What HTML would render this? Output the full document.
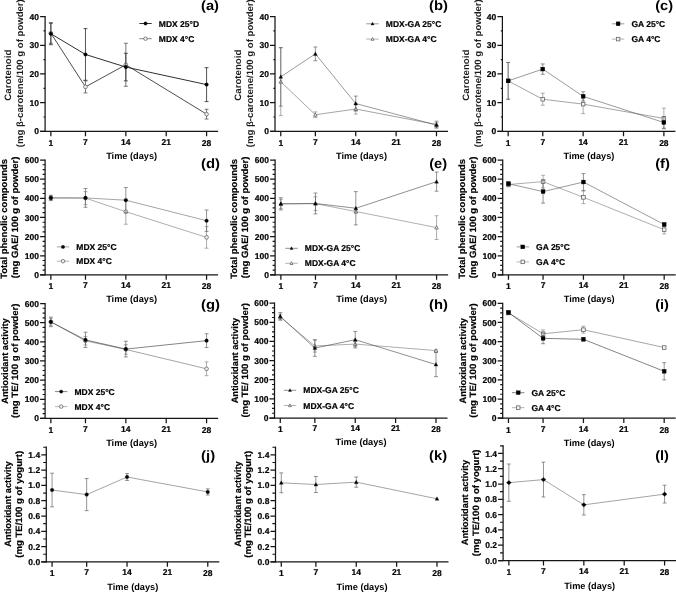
<!DOCTYPE html>
<html lang="en">
<head>
<meta charset="utf-8">
<title>Stability charts</title>
<style>
html,body{margin:0;padding:0;background:#fff;}
body{width:676px;height:592px;overflow:hidden;font-family:"Liberation Sans",sans-serif;}
svg{display:block;will-change:transform;transform:translateZ(0);}
svg text{text-rendering:geometricPrecision;font-family:"Liberation Sans",sans-serif;font-weight:bold;fill:#000;}
.tk text,.lg{stroke:#000;stroke-width:0.2px;stroke-linejoin:round;}
.tk text{font-size:8.5px;}
.tt{font-size:9.2px;}
.t1,.t2,.t3{stroke:#000;stroke-width:0.18px;}
.t0{fill:#1c1c1c;}
.lg{font-size:8.5px;}
.pl{font-size:13.5px;}
</style>
</head>
<body>
<svg width="676" height="592" viewBox="0 0 676 592">
<rect x="0" y="0" width="676" height="592" fill="#ffffff"/>
<!-- panel a -->
<g stroke="#151515" stroke-width="1.25" fill="none" stroke-linecap="butt">
<path d="M45.1 15.93 V132.03"/>
<path d="M40.1 131.4 H218.11"/>
<path d="M40.1 131.4 H45.1M40.1 102.69 H45.1M40.1 73.97 H45.1M40.1 45.26 H45.1M40.1 16.55 H45.1"/>
<path d="M50.87 131.4 V136.3M85.47 131.4 V136.3M125.84 131.4 V136.3M166.21 131.4 V136.3M206.58 131.4 V136.3"/>
</g>
<path d="M43.5 117.04 H45.1M43.5 88.33 H45.1M43.5 59.62 H45.1M43.5 30.91 H45.1" stroke="#151515" stroke-width="1.15" fill="none"/>
<g class="tk" text-anchor="end">
<text x="39" y="134.45">0</text>
<text x="39" y="105.74">10</text>
<text x="39" y="77.02">20</text>
<text x="39" y="48.31">30</text>
<text x="39" y="19.6">40</text>
</g>
<g class="tk" text-anchor="middle">
<text x="50.87" y="145.7">1</text>
<text x="85.47" y="144.7">7</text>
<text x="125.84" y="144.7">14</text>
<text x="166.21" y="144.7">21</text>
<text x="206.58" y="145.7">28</text>
</g>
<text class="tt" text-anchor="middle" x="131.61" y="158.8">Time (days)</text>
<text class="tt t0" text-anchor="middle" textLength="51" lengthAdjust="spacingAndGlyphs" transform="translate(11.2 75.2) rotate(-90)">Carotenoid</text>
<text class="tt t0" text-anchor="middle" textLength="148" lengthAdjust="spacingAndGlyphs" transform="translate(23.3 73.2) rotate(-90)">(mg β-carotene/100 g of powder)</text>
<path d="M50.87 33.2 L85.47 86.9 L125.84 64.79 L206.58 114.17" stroke="#444" stroke-width="0.95" fill="none"/>
<path d="M50.87 23.15 V43.25 M48.92 23.15 H52.82 M48.92 43.25 H52.82M85.47 80.87 V92.93 M83.52 80.87 H87.42 M83.52 92.93 H87.42M125.84 43.25 V86.32 M123.89 43.25 H127.79 M123.89 86.32 H127.79M206.58 109.29 V119.05 M204.63 109.29 H208.53 M204.63 119.05 H208.53" stroke="#555" stroke-width="0.8" fill="none"/>
<circle cx="50.87" cy="33.2" r="1.85" fill="#f2f2f2" stroke="#555" stroke-width="0.7"/>
<circle cx="85.47" cy="86.9" r="1.85" fill="#f2f2f2" stroke="#555" stroke-width="0.7"/>
<circle cx="125.84" cy="64.79" r="1.85" fill="#f2f2f2" stroke="#555" stroke-width="0.7"/>
<circle cx="206.58" cy="114.17" r="1.85" fill="#f2f2f2" stroke="#555" stroke-width="0.7"/>
<path d="M50.87 33.78 L85.47 54.45 L125.84 67.08 L206.58 84.6" stroke="#262626" stroke-width="0.95" fill="none"/>
<path d="M50.87 22.87 V44.69 M48.92 22.87 H52.82 M48.92 44.69 H52.82M85.47 28.61 V80.29 M83.52 28.61 H87.42 M83.52 80.29 H87.42M125.84 53.3 V80.87 M123.89 53.3 H127.79 M123.89 80.87 H127.79M206.58 67.66 V101.54 M204.63 67.66 H208.53 M204.63 101.54 H208.53" stroke="#2a2a2a" stroke-width="0.8" fill="none"/>
<circle cx="50.87" cy="33.78" r="1.8" fill="#000" stroke="#000" stroke-width="0.3"/>
<circle cx="85.47" cy="54.45" r="1.8" fill="#000" stroke="#000" stroke-width="0.3"/>
<circle cx="125.84" cy="67.08" r="1.8" fill="#000" stroke="#000" stroke-width="0.3"/>
<circle cx="206.58" cy="84.6" r="1.8" fill="#000" stroke="#000" stroke-width="0.3"/>
<path d="M139.3 23.5 H151.7" stroke="#262626" stroke-width="0.95"/>
<circle cx="145.5" cy="23.5" r="1.71" fill="#000" stroke="#000" stroke-width="0.3"/>
<text class="lg" x="158.8" y="26.55">MDX 25°D</text>
<path d="M139.3 38.7 H151.7" stroke="#808080" stroke-width="0.95"/>
<circle cx="145.5" cy="38.7" r="1.76" fill="#f2f2f2" stroke="#555" stroke-width="0.7"/>
<text class="lg" x="158.8" y="41.75">MDX 4°C</text>
<text class="pl" x="201.05" y="9.5" textLength="17.9" lengthAdjust="spacingAndGlyphs">(a)</text>
<!-- panel b -->
<g stroke="#151515" stroke-width="1.25" fill="none" stroke-linecap="butt">
<path d="M275 15.93 V132.03"/>
<path d="M270 131.4 H448.01"/>
<path d="M270 131.4 H275M270 102.69 H275M270 73.97 H275M270 45.26 H275M270 16.55 H275"/>
<path d="M280.77 131.4 V136.3M315.37 131.4 V136.3M355.74 131.4 V136.3M396.11 131.4 V136.3M436.48 131.4 V136.3"/>
</g>
<path d="M273.4 117.04 H275M273.4 88.33 H275M273.4 59.62 H275M273.4 30.91 H275" stroke="#151515" stroke-width="1.15" fill="none"/>
<g class="tk" text-anchor="end">
<text x="268.9" y="134.45">0</text>
<text x="268.9" y="105.74">10</text>
<text x="268.9" y="77.02">20</text>
<text x="268.9" y="48.31">30</text>
<text x="268.9" y="19.6">40</text>
</g>
<g class="tk" text-anchor="middle">
<text x="280.77" y="145.7">1</text>
<text x="315.37" y="144.7">7</text>
<text x="355.74" y="144.7">14</text>
<text x="396.11" y="144.7">21</text>
<text x="436.48" y="145.7">28</text>
</g>
<text class="tt" text-anchor="middle" x="361.5" y="158.8">Time (days)</text>
<text class="tt t0" text-anchor="middle" textLength="51" lengthAdjust="spacingAndGlyphs" transform="translate(241.1 75.2) rotate(-90)">Carotenoid</text>
<text class="tt t0" text-anchor="middle" textLength="148" lengthAdjust="spacingAndGlyphs" transform="translate(253.2 73.2) rotate(-90)">(mg β-carotene/100 g of powder)</text>
<path d="M280.77 81.73 L315.37 114.75 L355.74 109 L436.48 124.51" stroke="#666" stroke-width="0.6" fill="none"/>
<path d="M280.77 47.85 V115.61 M278.82 47.85 H282.72 M278.82 115.61 H282.72M315.37 111.88 V117.62 M313.42 111.88 H317.32 M313.42 117.62 H317.32M355.74 103.84 V114.17 M353.79 103.84 H357.69 M353.79 114.17 H357.69M436.48 121.06 V127.95 M434.53 121.06 H438.43 M434.53 127.95 H438.43" stroke="#828282" stroke-width="0.65" fill="none"/>
<polygon points="280.77,79.84 278.97,83.17 282.57,83.17" fill="#f2f2f2" stroke="#555" stroke-width="0.7"/>
<polygon points="315.37,112.86 313.57,116.19 317.17,116.19" fill="#f2f2f2" stroke="#555" stroke-width="0.7"/>
<polygon points="355.74,107.11 353.94,110.44 357.54,110.44" fill="#f2f2f2" stroke="#555" stroke-width="0.7"/>
<polygon points="436.48,122.62 434.68,125.95 438.28,125.95" fill="#f2f2f2" stroke="#555" stroke-width="0.7"/>
<path d="M280.77 76.85 L315.37 53.88 L355.74 103.55 L436.48 125.08" stroke="#555" stroke-width="0.6" fill="none"/>
<path d="M280.77 47.56 V106.13 M278.82 47.56 H282.72 M278.82 106.13 H282.72M315.37 46.99 V60.77 M313.42 46.99 H317.32 M313.42 60.77 H317.32M355.74 96.08 V111.01 M353.79 96.08 H357.69 M353.79 111.01 H357.69M436.48 122.21 V127.95 M434.53 122.21 H438.43 M434.53 127.95 H438.43" stroke="#5a5a5a" stroke-width="0.65" fill="none"/>
<polygon points="280.77,74.85 278.87,78.37 282.67,78.37" fill="#000" stroke="#000" stroke-width="0.3"/>
<polygon points="315.37,51.88 313.47,55.4 317.27,55.4" fill="#000" stroke="#000" stroke-width="0.3"/>
<polygon points="355.74,101.55 353.84,105.07 357.64,105.07" fill="#000" stroke="#000" stroke-width="0.3"/>
<polygon points="436.48,123.09 434.58,126.6 438.38,126.6" fill="#000" stroke="#000" stroke-width="0.3"/>
<path d="M366.3 23.8 H378.7" stroke="#555" stroke-width="0.6"/>
<polygon points="372.5,22.16 370.94,25.05 374.06,25.05" fill="#000" stroke="#000" stroke-width="0.3"/>
<text class="lg" x="385.8" y="26.85">MDX-GA 25°C</text>
<path d="M366.3 39.1 H378.7" stroke="#808080" stroke-width="0.6"/>
<polygon points="372.5,37.55 371.02,40.28 373.98,40.28" fill="#f2f2f2" stroke="#555" stroke-width="0.7"/>
<text class="lg" x="385.8" y="42.15">MDX-GA 4°C</text>
<text class="pl" x="429.05" y="9.5" textLength="18.9" lengthAdjust="spacingAndGlyphs">(b)</text>
<!-- panel c -->
<g stroke="#151515" stroke-width="1.25" fill="none" stroke-linecap="butt">
<path d="M502.4 15.93 V132.03"/>
<path d="M497.4 131.4 H675.41"/>
<path d="M497.4 131.4 H502.4M497.4 102.69 H502.4M497.4 73.97 H502.4M497.4 45.26 H502.4M497.4 16.55 H502.4"/>
<path d="M508.17 131.4 V136.3M542.77 131.4 V136.3M583.14 131.4 V136.3M623.51 131.4 V136.3M663.88 131.4 V136.3"/>
</g>
<path d="M500.8 117.04 H502.4M500.8 88.33 H502.4M500.8 59.62 H502.4M500.8 30.91 H502.4" stroke="#151515" stroke-width="1.15" fill="none"/>
<g class="tk" text-anchor="end">
<text x="496.3" y="134.45">0</text>
<text x="496.3" y="105.74">10</text>
<text x="496.3" y="77.02">20</text>
<text x="496.3" y="48.31">30</text>
<text x="496.3" y="19.6">40</text>
</g>
<g class="tk" text-anchor="middle">
<text x="508.17" y="145.7">1</text>
<text x="542.77" y="144.7">7</text>
<text x="583.14" y="144.7">14</text>
<text x="623.51" y="144.7">21</text>
<text x="663.88" y="145.7">28</text>
</g>
<text class="tt" text-anchor="middle" x="588.9" y="158.8">Time (days)</text>
<text class="tt t0" text-anchor="middle" textLength="51" lengthAdjust="spacingAndGlyphs" transform="translate(468.5 75.2) rotate(-90)">Carotenoid</text>
<text class="tt t0" text-anchor="middle" textLength="148" lengthAdjust="spacingAndGlyphs" transform="translate(480.6 73.2) rotate(-90)">(mg β-carotene/100 g of powder)</text>
<path d="M508.17 80.87 L542.77 99.24 L583.14 104.12 L663.88 118.48" stroke="#666" stroke-width="0.6" fill="none"/>
<path d="M508.17 62.49 V99.24 M506.22 62.49 H510.12 M506.22 99.24 H510.12M542.77 93.21 V105.27 M540.82 93.21 H544.72 M540.82 105.27 H544.72M583.14 94.65 V113.6 M581.19 94.65 H585.09 M581.19 113.6 H585.09M663.88 108.14 V128.82 M661.93 108.14 H665.83 M661.93 128.82 H665.83" stroke="#828282" stroke-width="0.65" fill="none"/>
<rect x="506.37" y="79.07" width="3.6" height="3.6" fill="#f2f2f2" stroke="#555" stroke-width="0.7"/>
<rect x="540.97" y="97.44" width="3.6" height="3.6" fill="#f2f2f2" stroke="#555" stroke-width="0.7"/>
<rect x="581.34" y="102.32" width="3.6" height="3.6" fill="#f2f2f2" stroke="#555" stroke-width="0.7"/>
<rect x="662.08" y="116.68" width="3.6" height="3.6" fill="#f2f2f2" stroke="#555" stroke-width="0.7"/>
<path d="M508.17 80.87 L542.77 69.09 L583.14 96.37 L663.88 122.5" stroke="#555" stroke-width="0.6" fill="none"/>
<path d="M508.17 62.49 V99.24 M506.22 62.49 H510.12 M506.22 99.24 H510.12M542.77 63.93 V74.26 M540.82 63.93 H544.72 M540.82 74.26 H544.72M583.14 91.78 V100.96 M581.19 91.78 H585.09 M581.19 100.96 H585.09M663.88 116.76 V128.24 M661.93 116.76 H665.83 M661.93 128.24 H665.83" stroke="#5a5a5a" stroke-width="0.65" fill="none"/>
<rect x="506.22" y="78.92" width="3.9" height="3.9" fill="#000" stroke="#000" stroke-width="0.3"/>
<rect x="540.82" y="67.14" width="3.9" height="3.9" fill="#000" stroke="#000" stroke-width="0.3"/>
<rect x="581.19" y="94.42" width="3.9" height="3.9" fill="#000" stroke="#000" stroke-width="0.3"/>
<rect x="661.93" y="120.55" width="3.9" height="3.9" fill="#000" stroke="#000" stroke-width="0.3"/>
<path d="M611.9 23.8 H624.3" stroke="#555" stroke-width="0.6"/>
<rect x="616.15" y="21.85" width="3.9" height="3.9" fill="#000" stroke="#000" stroke-width="0.3"/>
<text class="lg" x="631.4" y="26.85">GA 25°C</text>
<path d="M611.9 39.1 H624.3" stroke="#808080" stroke-width="0.6"/>
<rect x="616.3" y="37.3" width="3.6" height="3.6" fill="#f2f2f2" stroke="#555" stroke-width="0.7"/>
<text class="lg" x="631.4" y="42.15">GA 4°C</text>
<text class="pl" x="655.25" y="9.5" textLength="17.8" lengthAdjust="spacingAndGlyphs">(c)</text>
<!-- panel d -->
<g stroke="#151515" stroke-width="1.25" fill="none" stroke-linecap="butt">
<path d="M45.1 159.38 V275.52"/>
<path d="M40.1 274.9 H218.11"/>
<path d="M40.1 274.9 H45.1M40.1 255.75 H45.1M40.1 236.6 H45.1M40.1 217.45 H45.1M40.1 198.3 H45.1M40.1 179.15 H45.1M40.1 160 H45.1"/>
<path d="M50.87 274.9 V279.8M85.47 274.9 V279.8M125.84 274.9 V279.8M166.21 274.9 V279.8M206.58 274.9 V279.8"/>
</g>
<path d="M42.6 270.11 H45.1M42.6 265.32 H45.1M42.6 260.54 H45.1M42.6 250.96 H45.1M42.6 246.17 H45.1M42.6 241.39 H45.1M42.6 231.81 H45.1M42.6 227.02 H45.1M42.6 222.24 H45.1M42.6 212.66 H45.1M42.6 207.88 H45.1M42.6 203.09 H45.1M42.6 193.51 H45.1M42.6 188.72 H45.1M42.6 183.94 H45.1M42.6 174.36 H45.1M42.6 169.57 H45.1M42.6 164.79 H45.1" stroke="#151515" stroke-width="1.15" fill="none"/>
<g class="tk" text-anchor="end">
<text x="39" y="277.95">0</text>
<text x="39" y="258.8">100</text>
<text x="39" y="239.65">200</text>
<text x="39" y="220.5">300</text>
<text x="39" y="201.35">400</text>
<text x="39" y="182.2">500</text>
<text x="39" y="163.05">600</text>
</g>
<g class="tk" text-anchor="middle">
<text x="50.87" y="289.2">1</text>
<text x="85.47" y="288.2">7</text>
<text x="125.84" y="288.2">14</text>
<text x="166.21" y="288.2">21</text>
<text x="206.58" y="289.2">28</text>
</g>
<text class="tt" text-anchor="middle" x="131.61" y="302.3">Time (days)</text>
<text class="tt t1" text-anchor="middle" textLength="119.8" lengthAdjust="spacingAndGlyphs" transform="translate(7.3 218.9) rotate(-90)">Total phenolic compounds</text>
<text class="tt t1" text-anchor="middle" textLength="121.5" lengthAdjust="spacingAndGlyphs" transform="translate(18 217.4) rotate(-90)">(mg GAE/ 100 g of powder)</text>
<path d="M50.87 197.92 L85.47 198.11 L125.84 211.7 L206.58 237.37" stroke="#777" stroke-width="0.6" fill="none"/>
<path d="M50.87 196 V199.83 M48.92 196 H52.82 M48.92 199.83 H52.82M85.47 191.6 V204.62 M83.52 191.6 H87.42 M83.52 204.62 H87.42M125.84 199.16 V224.25 M123.89 199.16 H127.79 M123.89 224.25 H127.79M206.58 226.55 V248.19 M204.63 226.55 H208.53 M204.63 248.19 H208.53" stroke="#828282" stroke-width="0.65" fill="none"/>
<circle cx="50.87" cy="197.92" r="1.85" fill="#f2f2f2" stroke="#555" stroke-width="0.7"/>
<circle cx="85.47" cy="198.11" r="1.85" fill="#f2f2f2" stroke="#555" stroke-width="0.7"/>
<circle cx="125.84" cy="211.7" r="1.85" fill="#f2f2f2" stroke="#555" stroke-width="0.7"/>
<circle cx="206.58" cy="237.37" r="1.85" fill="#f2f2f2" stroke="#555" stroke-width="0.7"/>
<path d="M50.87 197.92 L85.47 197.92 L125.84 200.21 L206.58 220.71" stroke="#666" stroke-width="0.6" fill="none"/>
<path d="M50.87 195.24 V200.6 M48.92 195.24 H52.82 M48.92 200.6 H52.82M85.47 188.53 V207.3 M83.52 188.53 H87.42 M83.52 207.3 H87.42M125.84 187.58 V212.85 M123.89 187.58 H127.79 M123.89 212.85 H127.79M206.58 209.98 V231.43 M204.63 209.98 H208.53 M204.63 231.43 H208.53" stroke="#5a5a5a" stroke-width="0.65" fill="none"/>
<circle cx="50.87" cy="197.92" r="1.8" fill="#000" stroke="#000" stroke-width="0.3"/>
<circle cx="85.47" cy="197.92" r="1.8" fill="#000" stroke="#000" stroke-width="0.3"/>
<circle cx="125.84" cy="200.21" r="1.8" fill="#000" stroke="#000" stroke-width="0.3"/>
<circle cx="206.58" cy="220.71" r="1.8" fill="#000" stroke="#000" stroke-width="0.3"/>
<path d="M56.8 246.9 H69.2" stroke="#666" stroke-width="0.6"/>
<circle cx="63" cy="246.9" r="1.71" fill="#000" stroke="#000" stroke-width="0.3"/>
<text class="lg" x="76.3" y="249.95">MDX 25°C</text>
<path d="M56.8 261.2 H69.2" stroke="#808080" stroke-width="0.6"/>
<circle cx="63" cy="261.2" r="1.76" fill="#f2f2f2" stroke="#555" stroke-width="0.7"/>
<text class="lg" x="76.3" y="264.25">MDX 4°C</text>
<text class="pl" x="201.05" y="167.65" textLength="19" lengthAdjust="spacingAndGlyphs">(d)</text>
<!-- panel e -->
<g stroke="#151515" stroke-width="1.25" fill="none" stroke-linecap="butt">
<path d="M275.1 159.38 V275.52"/>
<path d="M270.1 274.9 H448.11"/>
<path d="M270.1 274.9 H275.1M270.1 255.75 H275.1M270.1 236.6 H275.1M270.1 217.45 H275.1M270.1 198.3 H275.1M270.1 179.15 H275.1M270.1 160 H275.1"/>
<path d="M280.87 274.9 V279.8M315.47 274.9 V279.8M355.84 274.9 V279.8M396.21 274.9 V279.8M436.58 274.9 V279.8"/>
</g>
<path d="M272.6 270.11 H275.1M272.6 265.32 H275.1M272.6 260.54 H275.1M272.6 250.96 H275.1M272.6 246.17 H275.1M272.6 241.39 H275.1M272.6 231.81 H275.1M272.6 227.02 H275.1M272.6 222.24 H275.1M272.6 212.66 H275.1M272.6 207.88 H275.1M272.6 203.09 H275.1M272.6 193.51 H275.1M272.6 188.72 H275.1M272.6 183.94 H275.1M272.6 174.36 H275.1M272.6 169.57 H275.1M272.6 164.79 H275.1" stroke="#151515" stroke-width="1.15" fill="none"/>
<g class="tk" text-anchor="end">
<text x="269" y="277.95">0</text>
<text x="269" y="258.8">100</text>
<text x="269" y="239.65">200</text>
<text x="269" y="220.5">300</text>
<text x="269" y="201.35">400</text>
<text x="269" y="182.2">500</text>
<text x="269" y="163.05">600</text>
</g>
<g class="tk" text-anchor="middle">
<text x="280.87" y="289.2">1</text>
<text x="315.47" y="288.2">7</text>
<text x="355.84" y="288.2">14</text>
<text x="396.21" y="288.2">21</text>
<text x="436.58" y="289.2">28</text>
</g>
<text class="tt" text-anchor="middle" x="361.61" y="302.3">Time (days)</text>
<text class="tt t1" text-anchor="middle" textLength="119.8" lengthAdjust="spacingAndGlyphs" transform="translate(237.3 218.9) rotate(-90)">Total phenolic compounds</text>
<text class="tt t1" text-anchor="middle" textLength="121.5" lengthAdjust="spacingAndGlyphs" transform="translate(248 217.4) rotate(-90)">(mg GAE/ 100 g of powder)</text>
<path d="M280.87 203.85 L315.47 203.66 L355.84 211.51 L436.58 227.6" stroke="#7a7a7a" stroke-width="0.6" fill="none"/>
<path d="M280.87 199.26 V208.45 M278.92 199.26 H282.82 M278.92 208.45 H282.82M315.47 196.77 V210.56 M313.52 196.77 H317.42 M313.52 210.56 H317.42M355.84 209.98 V213.05 M353.89 209.98 H357.79 M353.89 213.05 H357.79M436.58 215.73 V239.47 M434.63 215.73 H438.53 M434.63 239.47 H438.53" stroke="#828282" stroke-width="0.65" fill="none"/>
<polygon points="280.87,201.96 279.07,205.29 282.67,205.29" fill="#f2f2f2" stroke="#555" stroke-width="0.7"/>
<polygon points="315.47,201.77 313.67,205.1 317.27,205.1" fill="#f2f2f2" stroke="#555" stroke-width="0.7"/>
<polygon points="355.84,209.62 354.04,212.95 357.64,212.95" fill="#f2f2f2" stroke="#555" stroke-width="0.7"/>
<polygon points="436.58,225.71 434.78,229.04 438.38,229.04" fill="#f2f2f2" stroke="#555" stroke-width="0.7"/>
<path d="M280.87 203.85 L315.47 203.47 L355.84 208.26 L436.58 181.64" stroke="#444" stroke-width="0.6" fill="none"/>
<path d="M280.87 197.73 V209.98 M278.92 197.73 H282.82 M278.92 209.98 H282.82M315.47 193.03 V213.91 M313.52 193.03 H317.42 M313.52 213.91 H317.42M355.84 191.6 V224.92 M353.89 191.6 H357.79 M353.89 224.92 H357.79M436.58 172.06 V191.21 M434.63 172.06 H438.53 M434.63 191.21 H438.53" stroke="#5a5a5a" stroke-width="0.65" fill="none"/>
<polygon points="280.87,201.86 278.97,205.37 282.77,205.37" fill="#000" stroke="#000" stroke-width="0.3"/>
<polygon points="315.47,201.48 313.57,204.99 317.37,204.99" fill="#000" stroke="#000" stroke-width="0.3"/>
<polygon points="355.84,206.26 353.94,209.78 357.74,209.78" fill="#000" stroke="#000" stroke-width="0.3"/>
<polygon points="436.58,179.64 434.68,183.16 438.48,183.16" fill="#000" stroke="#000" stroke-width="0.3"/>
<path d="M285.3 248.3 H297.7" stroke="#444" stroke-width="0.6"/>
<polygon points="291.5,246.66 289.94,249.55 293.06,249.55" fill="#000" stroke="#000" stroke-width="0.3"/>
<text class="lg" x="304.8" y="251.35">MDX-GA 25°C</text>
<path d="M285.3 263.3 H297.7" stroke="#808080" stroke-width="0.6"/>
<polygon points="291.5,261.75 290.02,264.48 292.98,264.48" fill="#f2f2f2" stroke="#555" stroke-width="0.7"/>
<text class="lg" x="304.8" y="266.35">MDX-GA 4°C</text>
<text class="pl" x="429.15" y="167.65" textLength="17.9" lengthAdjust="spacingAndGlyphs">(e)</text>
<!-- panel f -->
<g stroke="#151515" stroke-width="1.25" fill="none" stroke-linecap="butt">
<path d="M502.7 159.38 V275.52"/>
<path d="M497.7 274.9 H675.71"/>
<path d="M497.7 274.9 H502.7M497.7 255.75 H502.7M497.7 236.6 H502.7M497.7 217.45 H502.7M497.7 198.3 H502.7M497.7 179.15 H502.7M497.7 160 H502.7"/>
<path d="M508.47 274.9 V279.8M543.07 274.9 V279.8M583.44 274.9 V279.8M623.81 274.9 V279.8M664.18 274.9 V279.8"/>
</g>
<path d="M500.2 270.11 H502.7M500.2 265.32 H502.7M500.2 260.54 H502.7M500.2 250.96 H502.7M500.2 246.17 H502.7M500.2 241.39 H502.7M500.2 231.81 H502.7M500.2 227.02 H502.7M500.2 222.24 H502.7M500.2 212.66 H502.7M500.2 207.88 H502.7M500.2 203.09 H502.7M500.2 193.51 H502.7M500.2 188.72 H502.7M500.2 183.94 H502.7M500.2 174.36 H502.7M500.2 169.57 H502.7M500.2 164.79 H502.7" stroke="#151515" stroke-width="1.15" fill="none"/>
<g class="tk" text-anchor="end">
<text x="496.6" y="277.95">0</text>
<text x="496.6" y="258.8">100</text>
<text x="496.6" y="239.65">200</text>
<text x="496.6" y="220.5">300</text>
<text x="496.6" y="201.35">400</text>
<text x="496.6" y="182.2">500</text>
<text x="496.6" y="163.05">600</text>
</g>
<g class="tk" text-anchor="middle">
<text x="508.47" y="289.2">1</text>
<text x="543.07" y="288.2">7</text>
<text x="583.44" y="288.2">14</text>
<text x="623.81" y="288.2">21</text>
<text x="664.18" y="289.2">28</text>
</g>
<text class="tt" text-anchor="middle" x="589.21" y="302.3">Time (days)</text>
<text class="tt t1" text-anchor="middle" textLength="119.8" lengthAdjust="spacingAndGlyphs" transform="translate(464.9 218.9) rotate(-90)">Total phenolic compounds</text>
<text class="tt t1" text-anchor="middle" textLength="121.5" lengthAdjust="spacingAndGlyphs" transform="translate(475.6 217.4) rotate(-90)">(mg GAE/ 100 g of powder)</text>
<path d="M508.47 184.51 L543.07 181.64 L583.44 197.34 L664.18 229.71" stroke="#777" stroke-width="0.6" fill="none"/>
<path d="M508.47 182.21 V186.81 M506.52 182.21 H510.42 M506.52 186.81 H510.42M543.07 175.32 V187.96 M541.12 175.32 H545.02 M541.12 187.96 H545.02M583.44 191.02 V203.66 M581.49 191.02 H585.39 M581.49 203.66 H585.39M664.18 225.49 V233.92 M662.23 225.49 H666.13 M662.23 233.92 H666.13" stroke="#828282" stroke-width="0.65" fill="none"/>
<rect x="506.67" y="182.71" width="3.6" height="3.6" fill="#f2f2f2" stroke="#555" stroke-width="0.7"/>
<rect x="541.27" y="179.84" width="3.6" height="3.6" fill="#f2f2f2" stroke="#555" stroke-width="0.7"/>
<rect x="581.64" y="195.54" width="3.6" height="3.6" fill="#f2f2f2" stroke="#555" stroke-width="0.7"/>
<rect x="662.38" y="227.91" width="3.6" height="3.6" fill="#f2f2f2" stroke="#555" stroke-width="0.7"/>
<path d="M508.47 183.75 L543.07 191.6 L583.44 182.02 L664.18 224.54" stroke="#555" stroke-width="0.6" fill="none"/>
<path d="M508.47 181.83 V185.66 M506.52 181.83 H510.42 M506.52 185.66 H510.42M543.07 180.11 V203.09 M541.12 180.11 H545.02 M541.12 203.09 H545.02M583.44 173.6 V190.45 M581.49 173.6 H585.39 M581.49 190.45 H585.39M664.18 222.62 V226.45 M662.23 222.62 H666.13 M662.23 226.45 H666.13" stroke="#5a5a5a" stroke-width="0.65" fill="none"/>
<rect x="506.52" y="181.8" width="3.9" height="3.9" fill="#000" stroke="#000" stroke-width="0.3"/>
<rect x="541.12" y="189.65" width="3.9" height="3.9" fill="#000" stroke="#000" stroke-width="0.3"/>
<rect x="581.49" y="180.07" width="3.9" height="3.9" fill="#000" stroke="#000" stroke-width="0.3"/>
<rect x="662.23" y="222.59" width="3.9" height="3.9" fill="#000" stroke="#000" stroke-width="0.3"/>
<path d="M516.6 246.9 H529" stroke="#555" stroke-width="0.6"/>
<rect x="520.85" y="244.95" width="3.9" height="3.9" fill="#000" stroke="#000" stroke-width="0.3"/>
<text class="lg" x="536.1" y="249.95">GA 25°C</text>
<path d="M516.6 261.9 H529" stroke="#808080" stroke-width="0.6"/>
<rect x="521" y="260.1" width="3.6" height="3.6" fill="#f2f2f2" stroke="#555" stroke-width="0.7"/>
<text class="lg" x="536.1" y="264.95">GA 4°C</text>
<text class="pl" x="655.15" y="167.65" textLength="14.8" lengthAdjust="spacingAndGlyphs">(f)</text>
<!-- panel g -->
<g stroke="#151515" stroke-width="1.25" fill="none" stroke-linecap="butt">
<path d="M45.1 302.88 V419.02"/>
<path d="M40.1 418.4 H218.11"/>
<path d="M40.1 418.4 H45.1M40.1 399.25 H45.1M40.1 380.1 H45.1M40.1 360.95 H45.1M40.1 341.8 H45.1M40.1 322.65 H45.1M40.1 303.5 H45.1"/>
<path d="M50.87 418.4 V423.3M85.47 418.4 V423.3M125.84 418.4 V423.3M166.21 418.4 V423.3M206.58 418.4 V423.3"/>
</g>
<path d="M42.6 413.61 H45.1M42.6 408.82 H45.1M42.6 404.04 H45.1M42.6 394.46 H45.1M42.6 389.67 H45.1M42.6 384.89 H45.1M42.6 375.31 H45.1M42.6 370.52 H45.1M42.6 365.74 H45.1M42.6 356.16 H45.1M42.6 351.38 H45.1M42.6 346.59 H45.1M42.6 337.01 H45.1M42.6 332.23 H45.1M42.6 327.44 H45.1M42.6 317.86 H45.1M42.6 313.07 H45.1M42.6 308.29 H45.1" stroke="#151515" stroke-width="1.15" fill="none"/>
<g class="tk" text-anchor="end">
<text x="39" y="421.45">0</text>
<text x="39" y="402.3">100</text>
<text x="39" y="383.15">200</text>
<text x="39" y="364">300</text>
<text x="39" y="344.85">400</text>
<text x="39" y="325.7">500</text>
<text x="39" y="306.55">600</text>
</g>
<g class="tk" text-anchor="middle">
<text x="50.87" y="432.7">1</text>
<text x="85.47" y="431.7">7</text>
<text x="125.84" y="431.7">14</text>
<text x="166.21" y="431.7">21</text>
<text x="206.58" y="432.7">28</text>
</g>
<text class="tt" text-anchor="middle" x="131.61" y="445.8">Time (days)</text>
<text class="tt t2" text-anchor="middle" textLength="85.5" lengthAdjust="spacingAndGlyphs" transform="translate(8.3 361) rotate(-90)">Antioxidant activity</text>
<text class="tt t2" text-anchor="middle" textLength="114.5" lengthAdjust="spacingAndGlyphs" transform="translate(18.4 360.75) rotate(-90)">(mg TE/ 100 g of powder)</text>
<path d="M50.87 321.88 L85.47 340.84 L125.84 349.46 L206.58 368.8" stroke="#666" stroke-width="0.6" fill="none"/>
<path d="M50.87 318.44 V325.33 M48.92 318.44 H52.82 M48.92 325.33 H52.82M85.47 336.63 V345.06 M83.52 336.63 H87.42 M83.52 345.06 H87.42M125.84 344.67 V354.25 M123.89 344.67 H127.79 M123.89 354.25 H127.79M206.58 361.91 V375.7 M204.63 361.91 H208.53 M204.63 375.7 H208.53" stroke="#828282" stroke-width="0.65" fill="none"/>
<circle cx="50.87" cy="321.88" r="1.85" fill="#f2f2f2" stroke="#555" stroke-width="0.7"/>
<circle cx="85.47" cy="340.84" r="1.85" fill="#f2f2f2" stroke="#555" stroke-width="0.7"/>
<circle cx="125.84" cy="349.46" r="1.85" fill="#f2f2f2" stroke="#555" stroke-width="0.7"/>
<circle cx="206.58" cy="368.8" r="1.85" fill="#f2f2f2" stroke="#555" stroke-width="0.7"/>
<path d="M50.87 321.88 L85.47 339.88 L125.84 349.08 L206.58 340.65" stroke="#333" stroke-width="0.6" fill="none"/>
<path d="M50.87 317.1 V326.67 M48.92 317.1 H52.82 M48.92 326.67 H52.82M85.47 332.23 V347.54 M83.52 332.23 H87.42 M83.52 347.54 H87.42M125.84 341.23 V356.93 M123.89 341.23 H127.79 M123.89 356.93 H127.79M206.58 333.76 V347.54 M204.63 333.76 H208.53 M204.63 347.54 H208.53" stroke="#5a5a5a" stroke-width="0.65" fill="none"/>
<circle cx="50.87" cy="321.88" r="1.8" fill="#000" stroke="#000" stroke-width="0.3"/>
<circle cx="85.47" cy="339.88" r="1.8" fill="#000" stroke="#000" stroke-width="0.3"/>
<circle cx="125.84" cy="349.08" r="1.8" fill="#000" stroke="#000" stroke-width="0.3"/>
<circle cx="206.58" cy="340.65" r="1.8" fill="#000" stroke="#000" stroke-width="0.3"/>
<path d="M55 391.6 H67.4" stroke="#333" stroke-width="0.6"/>
<circle cx="61.2" cy="391.6" r="1.71" fill="#000" stroke="#000" stroke-width="0.3"/>
<text class="lg" x="74.5" y="394.65">MDX 25°C</text>
<path d="M55 406.6 H67.4" stroke="#808080" stroke-width="0.6"/>
<circle cx="61.2" cy="406.6" r="1.76" fill="#f2f2f2" stroke="#555" stroke-width="0.7"/>
<text class="lg" x="74.5" y="409.65">MDX 4°C</text>
<text class="pl" x="201.05" y="308.9" textLength="19" lengthAdjust="spacingAndGlyphs">(g)</text>
<!-- panel h -->
<g stroke="#151515" stroke-width="1.25" fill="none" stroke-linecap="butt">
<path d="M274.5 302.48 V418.62"/>
<path d="M269.5 418 H447.51"/>
<path d="M269.5 418 H274.5M269.5 398.85 H274.5M269.5 379.7 H274.5M269.5 360.55 H274.5M269.5 341.4 H274.5M269.5 322.25 H274.5M269.5 303.1 H274.5"/>
<path d="M280.27 418 V422.9M314.87 418 V422.9M355.24 418 V422.9M395.61 418 V422.9M435.98 418 V422.9"/>
</g>
<path d="M272 413.21 H274.5M272 408.43 H274.5M272 403.64 H274.5M272 394.06 H274.5M272 389.27 H274.5M272 384.49 H274.5M272 374.91 H274.5M272 370.12 H274.5M272 365.34 H274.5M272 355.76 H274.5M272 350.98 H274.5M272 346.19 H274.5M272 336.61 H274.5M272 331.83 H274.5M272 327.04 H274.5M272 317.46 H274.5M272 312.68 H274.5M272 307.89 H274.5" stroke="#151515" stroke-width="1.15" fill="none"/>
<g class="tk" text-anchor="end">
<text x="268.4" y="421.05">0</text>
<text x="268.4" y="401.9">100</text>
<text x="268.4" y="382.75">200</text>
<text x="268.4" y="363.6">300</text>
<text x="268.4" y="344.45">400</text>
<text x="268.4" y="325.3">500</text>
<text x="268.4" y="306.15">600</text>
</g>
<g class="tk" text-anchor="middle">
<text x="280.27" y="432.3">1</text>
<text x="314.87" y="431.3">7</text>
<text x="355.24" y="431.3">14</text>
<text x="395.61" y="431.3">21</text>
<text x="435.98" y="432.3">28</text>
</g>
<text class="tt" text-anchor="middle" x="361" y="445.4">Time (days)</text>
<text class="tt t2" text-anchor="middle" textLength="85.5" lengthAdjust="spacingAndGlyphs" transform="translate(237.7 360.6) rotate(-90)">Antioxidant activity</text>
<text class="tt t2" text-anchor="middle" textLength="114.5" lengthAdjust="spacingAndGlyphs" transform="translate(247.8 360.35) rotate(-90)">(mg TE/ 100 g of powder)</text>
<path d="M280.27 317.08 L314.87 346 L355.24 344.08 L435.98 350.59" stroke="#777" stroke-width="0.6" fill="none"/>
<path d="M280.27 314.21 V319.95 M278.32 314.21 H282.22 M278.32 319.95 H282.22M314.87 339.87 V352.12 M312.92 339.87 H316.82 M312.92 352.12 H316.82M355.24 341.4 V346.76 M353.29 341.4 H357.19 M353.29 346.76 H357.19M435.98 349.83 V351.36 M434.03 349.83 H437.93 M434.03 351.36 H437.93" stroke="#828282" stroke-width="0.65" fill="none"/>
<polygon points="280.27,315.19 278.47,318.52 282.07,318.52" fill="#f2f2f2" stroke="#555" stroke-width="0.7"/>
<polygon points="314.87,344.11 313.07,347.44 316.67,347.44" fill="#f2f2f2" stroke="#555" stroke-width="0.7"/>
<polygon points="355.24,342.19 353.44,345.52 357.04,345.52" fill="#f2f2f2" stroke="#555" stroke-width="0.7"/>
<polygon points="435.98,348.7 434.18,352.03 437.78,352.03" fill="#f2f2f2" stroke="#555" stroke-width="0.7"/>
<path d="M280.27 316.31 L314.87 348.1 L355.24 339.68 L435.98 364.57" stroke="#444" stroke-width="0.6" fill="none"/>
<path d="M280.27 312.58 V320.05 M278.32 312.58 H282.22 M278.32 320.05 H282.22M314.87 339.87 V356.34 M312.92 339.87 H316.82 M312.92 356.34 H316.82M355.24 331.44 V347.91 M353.29 331.44 H357.19 M353.29 347.91 H357.19M435.98 352.51 V376.64 M434.03 352.51 H437.93 M434.03 376.64 H437.93" stroke="#5a5a5a" stroke-width="0.65" fill="none"/>
<polygon points="280.27,314.32 278.37,317.83 282.17,317.83" fill="#000" stroke="#000" stroke-width="0.3"/>
<polygon points="314.87,346.11 312.97,349.62 316.77,349.62" fill="#000" stroke="#000" stroke-width="0.3"/>
<polygon points="355.24,337.68 353.34,341.2 357.14,341.2" fill="#000" stroke="#000" stroke-width="0.3"/>
<polygon points="435.98,362.58 434.08,366.09 437.88,366.09" fill="#000" stroke="#000" stroke-width="0.3"/>
<path d="M283.8 390.3 H296.2" stroke="#444" stroke-width="0.6"/>
<polygon points="290,388.66 288.44,391.55 291.56,391.55" fill="#000" stroke="#000" stroke-width="0.3"/>
<text class="lg" x="303.3" y="393.35">MDX-GA 25°C</text>
<path d="M283.8 405.5 H296.2" stroke="#808080" stroke-width="0.6"/>
<polygon points="290,403.95 288.52,406.68 291.48,406.68" fill="#f2f2f2" stroke="#555" stroke-width="0.7"/>
<text class="lg" x="303.3" y="408.55">MDX-GA 4°C</text>
<text class="pl" x="429.05" y="308.9" textLength="18.9" lengthAdjust="spacingAndGlyphs">(h)</text>
<!-- panel i -->
<g stroke="#151515" stroke-width="1.25" fill="none" stroke-linecap="butt">
<path d="M502.7 302.68 V418.82"/>
<path d="M497.7 418.2 H675.71"/>
<path d="M497.7 418.2 H502.7M497.7 399.05 H502.7M497.7 379.9 H502.7M497.7 360.75 H502.7M497.7 341.6 H502.7M497.7 322.45 H502.7M497.7 303.3 H502.7"/>
<path d="M508.47 418.2 V423.1M543.07 418.2 V423.1M583.44 418.2 V423.1M623.81 418.2 V423.1M664.18 418.2 V423.1"/>
</g>
<path d="M500.2 413.41 H502.7M500.2 408.62 H502.7M500.2 403.84 H502.7M500.2 394.26 H502.7M500.2 389.47 H502.7M500.2 384.69 H502.7M500.2 375.11 H502.7M500.2 370.32 H502.7M500.2 365.54 H502.7M500.2 355.96 H502.7M500.2 351.18 H502.7M500.2 346.39 H502.7M500.2 336.81 H502.7M500.2 332.02 H502.7M500.2 327.24 H502.7M500.2 317.66 H502.7M500.2 312.88 H502.7M500.2 308.09 H502.7" stroke="#151515" stroke-width="1.15" fill="none"/>
<g class="tk" text-anchor="end">
<text x="496.6" y="421.25">0</text>
<text x="496.6" y="402.1">100</text>
<text x="496.6" y="382.95">200</text>
<text x="496.6" y="363.8">300</text>
<text x="496.6" y="344.65">400</text>
<text x="496.6" y="325.5">500</text>
<text x="496.6" y="306.35">600</text>
</g>
<g class="tk" text-anchor="middle">
<text x="508.47" y="432.5">1</text>
<text x="543.07" y="431.5">7</text>
<text x="583.44" y="431.5">14</text>
<text x="623.81" y="431.5">21</text>
<text x="664.18" y="432.5">28</text>
</g>
<text class="tt" text-anchor="middle" x="589.21" y="445.6">Time (days)</text>
<text class="tt t2" text-anchor="middle" textLength="85.5" lengthAdjust="spacingAndGlyphs" transform="translate(465.9 360.8) rotate(-90)">Antioxidant activity</text>
<text class="tt t2" text-anchor="middle" textLength="114.5" lengthAdjust="spacingAndGlyphs" transform="translate(476 360.55) rotate(-90)">(mg TE/ 100 g of powder)</text>
<path d="M508.47 312.88 L543.07 333.75 L583.44 329.73 L664.18 347.54" stroke="#6a6a6a" stroke-width="0.6" fill="none"/>
<path d="M508.47 310.96 V314.79 M506.52 310.96 H510.42 M506.52 314.79 H510.42M543.07 329.92 V337.58 M541.12 329.92 H545.02 M541.12 337.58 H545.02M583.44 326.28 V333.17 M581.49 326.28 H585.39 M581.49 333.17 H585.39M664.18 346.58 V348.49 M662.23 346.58 H666.13 M662.23 348.49 H666.13" stroke="#828282" stroke-width="0.65" fill="none"/>
<rect x="506.67" y="311.07" width="3.6" height="3.6" fill="#f2f2f2" stroke="#555" stroke-width="0.7"/>
<rect x="541.27" y="331.95" width="3.6" height="3.6" fill="#f2f2f2" stroke="#555" stroke-width="0.7"/>
<rect x="581.64" y="327.93" width="3.6" height="3.6" fill="#f2f2f2" stroke="#555" stroke-width="0.7"/>
<rect x="662.38" y="345.74" width="3.6" height="3.6" fill="#f2f2f2" stroke="#555" stroke-width="0.7"/>
<path d="M508.47 312.49 L543.07 338.34 L583.44 339.3 L664.18 371.28" stroke="#333" stroke-width="0.6" fill="none"/>
<path d="M508.47 310.58 V314.41 M506.52 310.58 H510.42 M506.52 314.41 H510.42M543.07 332.98 V343.71 M541.12 332.98 H545.02 M541.12 343.71 H545.02M583.44 337.77 V340.83 M581.49 337.77 H585.39 M581.49 340.83 H585.39M664.18 362.67 V379.9 M662.23 362.67 H666.13 M662.23 379.9 H666.13" stroke="#5a5a5a" stroke-width="0.65" fill="none"/>
<rect x="506.52" y="310.54" width="3.9" height="3.9" fill="#000" stroke="#000" stroke-width="0.3"/>
<rect x="541.12" y="336.39" width="3.9" height="3.9" fill="#000" stroke="#000" stroke-width="0.3"/>
<rect x="581.49" y="337.35" width="3.9" height="3.9" fill="#000" stroke="#000" stroke-width="0.3"/>
<rect x="662.23" y="369.33" width="3.9" height="3.9" fill="#000" stroke="#000" stroke-width="0.3"/>
<path d="M512 392.7 H524.4" stroke="#333" stroke-width="0.6"/>
<rect x="516.25" y="390.75" width="3.9" height="3.9" fill="#000" stroke="#000" stroke-width="0.3"/>
<text class="lg" x="531.5" y="395.75">GA 25°C</text>
<path d="M512 407.7 H524.4" stroke="#808080" stroke-width="0.6"/>
<rect x="516.4" y="405.9" width="3.6" height="3.6" fill="#f2f2f2" stroke="#555" stroke-width="0.7"/>
<text class="lg" x="531.5" y="410.75">GA 4°C</text>
<text class="pl" x="655.15" y="308.9" textLength="13.8" lengthAdjust="spacingAndGlyphs">(i)</text>
<!-- panel j -->
<g stroke="#151515" stroke-width="1.25" fill="none" stroke-linecap="butt">
<path d="M46.3 446.57 V562.52"/>
<path d="M41.3 561.9 H219.31"/>
<path d="M41.3 561.9 H46.3M41.3 546.61 H46.3M41.3 531.31 H46.3M41.3 516.02 H46.3M41.3 500.73 H46.3M41.3 485.43 H46.3M41.3 470.14 H46.3M41.3 454.85 H46.3"/>
<path d="M52.07 561.9 V566.8M86.67 561.9 V566.8M127.04 561.9 V566.8M167.41 561.9 V566.8M207.78 561.9 V566.8"/>
</g>
<path d="M43.2 554.25 H46.3M43.2 538.96 H46.3M43.2 523.67 H46.3M43.2 508.37 H46.3M43.2 493.08 H46.3M43.2 477.79 H46.3M43.2 462.49 H46.3M43.2 447.2 H46.3" stroke="#151515" stroke-width="1.15" fill="none"/>
<g class="tk" text-anchor="end">
<text x="40.2" y="564.95">0.0</text>
<text x="40.2" y="549.66">0.2</text>
<text x="40.2" y="534.36">0.4</text>
<text x="40.2" y="519.07">0.6</text>
<text x="40.2" y="503.78">0.8</text>
<text x="40.2" y="488.48">1.0</text>
<text x="40.2" y="473.19">1.2</text>
<text x="40.2" y="457.9">1.4</text>
</g>
<g class="tk" text-anchor="middle">
<text x="52.07" y="576.2">1</text>
<text x="86.67" y="575.2">7</text>
<text x="127.04" y="575.2">14</text>
<text x="167.41" y="575.2">21</text>
<text x="207.78" y="576.2">28</text>
</g>
<text class="tt" text-anchor="middle" x="132.81" y="590">Time (days)</text>
<text class="tt t3" text-anchor="middle" textLength="85.3" lengthAdjust="spacingAndGlyphs" transform="translate(11.3 504) rotate(-90)">Antioxidant activity</text>
<text class="tt t3" text-anchor="middle" textLength="106.8" lengthAdjust="spacingAndGlyphs" transform="translate(22 504.3) rotate(-90)">(mg TE/100 g of yogurt)</text>
<path d="M52.07 490.02 L86.67 494.61 L127.04 477.02 L207.78 491.93" stroke="#666" stroke-width="0.6" fill="none"/>
<path d="M52.07 473.2 V506.84 M50.12 473.2 H54.02 M50.12 506.84 H54.02M86.67 478.55 V510.67 M84.72 478.55 H88.62 M84.72 510.67 H88.62M127.04 473.58 V480.46 M125.09 473.58 H128.99 M125.09 480.46 H128.99M207.78 488.87 V494.99 M205.83 488.87 H209.73 M205.83 494.99 H209.73" stroke="#5a5a5a" stroke-width="0.65" fill="none"/>
<circle cx="52.07" cy="490.02" r="1.8" fill="#000" stroke="#000" stroke-width="0.3"/>
<circle cx="86.67" cy="494.61" r="1.8" fill="#000" stroke="#000" stroke-width="0.3"/>
<circle cx="127.04" cy="477.02" r="1.8" fill="#000" stroke="#000" stroke-width="0.3"/>
<circle cx="207.78" cy="491.93" r="1.8" fill="#000" stroke="#000" stroke-width="0.3"/>
<text class="pl" x="201.05" y="459.9" textLength="14.1" lengthAdjust="spacingAndGlyphs">(j)</text>
<!-- panel k -->
<g stroke="#151515" stroke-width="1.25" fill="none" stroke-linecap="butt">
<path d="M275.5 446.57 V562.52"/>
<path d="M270.5 561.9 H448.51"/>
<path d="M270.5 561.9 H275.5M270.5 546.61 H275.5M270.5 531.31 H275.5M270.5 516.02 H275.5M270.5 500.73 H275.5M270.5 485.43 H275.5M270.5 470.14 H275.5M270.5 454.85 H275.5"/>
<path d="M281.27 561.9 V566.8M315.87 561.9 V566.8M356.24 561.9 V566.8M396.61 561.9 V566.8M436.98 561.9 V566.8"/>
</g>
<path d="M272.4 554.25 H275.5M272.4 538.96 H275.5M272.4 523.67 H275.5M272.4 508.37 H275.5M272.4 493.08 H275.5M272.4 477.79 H275.5M272.4 462.49 H275.5M272.4 447.2 H275.5" stroke="#151515" stroke-width="1.15" fill="none"/>
<g class="tk" text-anchor="end">
<text x="269.4" y="564.95">0.0</text>
<text x="269.4" y="549.66">0.2</text>
<text x="269.4" y="534.36">0.4</text>
<text x="269.4" y="519.07">0.6</text>
<text x="269.4" y="503.78">0.8</text>
<text x="269.4" y="488.48">1.0</text>
<text x="269.4" y="473.19">1.2</text>
<text x="269.4" y="457.9">1.4</text>
</g>
<g class="tk" text-anchor="middle">
<text x="281.27" y="576.2">1</text>
<text x="315.87" y="575.2">7</text>
<text x="356.24" y="575.2">14</text>
<text x="396.61" y="575.2">21</text>
<text x="436.98" y="576.2">28</text>
</g>
<text class="tt" text-anchor="middle" x="362" y="590">Time (days)</text>
<text class="tt t3" text-anchor="middle" textLength="85.3" lengthAdjust="spacingAndGlyphs" transform="translate(240.5 504) rotate(-90)">Antioxidant activity</text>
<text class="tt t3" text-anchor="middle" textLength="106.8" lengthAdjust="spacingAndGlyphs" transform="translate(251.2 504.3) rotate(-90)">(mg TE/100 g of yogurt)</text>
<path d="M281.27 482.83 L315.87 484.52 L356.24 482.15 L436.98 498.81" stroke="#666" stroke-width="0.6" fill="none"/>
<path d="M281.27 472.89 V492.77 M279.32 472.89 H283.22 M279.32 492.77 H283.22M315.87 476.49 V492.54 M313.92 476.49 H317.82 M313.92 492.54 H317.82M356.24 477.02 V487.27 M354.29 477.02 H358.19 M354.29 487.27 H358.19" stroke="#5a5a5a" stroke-width="0.65" fill="none"/>
<polygon points="281.27,480.84 279.37,484.35 283.17,484.35" fill="#000" stroke="#000" stroke-width="0.3"/>
<polygon points="315.87,482.52 313.97,486.04 317.77,486.04" fill="#000" stroke="#000" stroke-width="0.3"/>
<polygon points="356.24,480.15 354.34,483.67 358.14,483.67" fill="#000" stroke="#000" stroke-width="0.3"/>
<polygon points="436.98,496.82 435.08,500.33 438.88,500.33" fill="#000" stroke="#000" stroke-width="0.3"/>
<text class="pl" x="429.05" y="459.9" textLength="18" lengthAdjust="spacingAndGlyphs">(k)</text>
<!-- panel l -->
<g stroke="#151515" stroke-width="1.25" fill="none" stroke-linecap="butt">
<path d="M503.1 445.18 V561.12"/>
<path d="M498.1 560.5 H676.11"/>
<path d="M498.1 560.5 H503.1M498.1 545.21 H503.1M498.1 529.91 H503.1M498.1 514.62 H503.1M498.1 499.33 H503.1M498.1 484.03 H503.1M498.1 468.74 H503.1M498.1 453.45 H503.1"/>
<path d="M508.87 560.5 V565.4M543.47 560.5 V565.4M583.84 560.5 V565.4M624.21 560.5 V565.4M664.58 560.5 V565.4"/>
</g>
<path d="M500 552.85 H503.1M500 537.56 H503.1M500 522.27 H503.1M500 506.97 H503.1M500 491.68 H503.1M500 476.39 H503.1M500 461.09 H503.1M500 445.8 H503.1" stroke="#151515" stroke-width="1.15" fill="none"/>
<g class="tk" text-anchor="end">
<text x="497" y="563.55">0.0</text>
<text x="497" y="548.26">0.2</text>
<text x="497" y="532.96">0.4</text>
<text x="497" y="517.67">0.6</text>
<text x="497" y="502.38">0.8</text>
<text x="497" y="487.08">1.0</text>
<text x="497" y="471.79">1.2</text>
<text x="497" y="456.5">1.4</text>
</g>
<g class="tk" text-anchor="middle">
<text x="508.87" y="574.8">1</text>
<text x="543.47" y="573.8">7</text>
<text x="583.84" y="573.8">14</text>
<text x="624.21" y="573.8">21</text>
<text x="664.58" y="574.8">28</text>
</g>
<text class="tt" text-anchor="middle" x="589.61" y="588.6">Time (days)</text>
<text class="tt t3" text-anchor="middle" textLength="85.3" lengthAdjust="spacingAndGlyphs" transform="translate(468.1 502.6) rotate(-90)">Antioxidant activity</text>
<text class="tt t3" text-anchor="middle" textLength="106.8" lengthAdjust="spacingAndGlyphs" transform="translate(478.8 502.9) rotate(-90)">(mg TE/100 g of yogurt)</text>
<path d="M508.87 482.66 L543.47 479.6 L583.84 504.83 L664.58 494.13" stroke="#666" stroke-width="0.6" fill="none"/>
<path d="M508.87 464 V501.31 M506.92 464 H510.82 M506.92 501.31 H510.82M543.47 462.16 V497.03 M541.52 462.16 H545.42 M541.52 497.03 H545.42M583.84 494.66 V515 M581.89 494.66 H585.79 M581.89 515 H585.79M664.58 485.26 V503 M662.63 485.26 H666.53 M662.63 503 H666.53" stroke="#5a5a5a" stroke-width="0.65" fill="none"/>
<polygon points="508.87,480.46 511.32,482.66 508.87,484.86 506.42,482.66" fill="#000" stroke="#000" stroke-width="0.3"/>
<polygon points="543.47,477.4 545.92,479.6 543.47,481.8 541.02,479.6" fill="#000" stroke="#000" stroke-width="0.3"/>
<polygon points="583.84,502.63 586.29,504.83 583.84,507.03 581.39,504.83" fill="#000" stroke="#000" stroke-width="0.3"/>
<polygon points="664.58,491.93 667.03,494.13 664.58,496.33 662.13,494.13" fill="#000" stroke="#000" stroke-width="0.3"/>
<text class="pl" x="655.15" y="459.9" textLength="13.8" lengthAdjust="spacingAndGlyphs">(l)</text>
</svg>
</body>
</html>
